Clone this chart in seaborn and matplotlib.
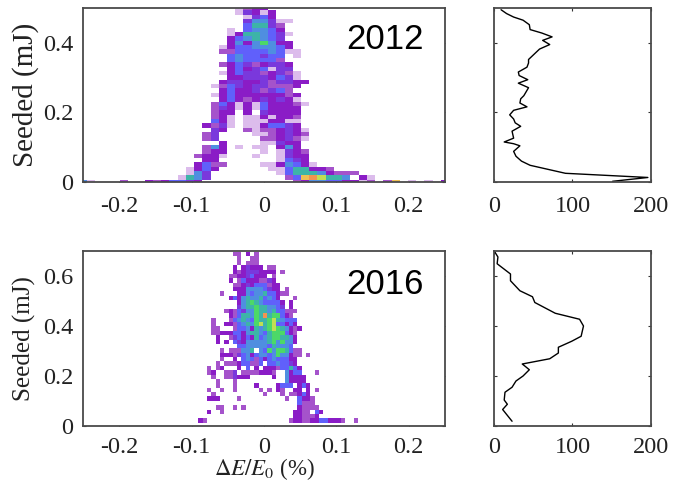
import numpy as np
import pandas as pd
import matplotlib
matplotlib.use("Agg")
import matplotlib.pyplot as plt
from matplotlib.colors import ListedColormap
import seaborn as sns

sns.set_theme(style="white")
plt.rcParams["font.family"] = ["Liberation Serif", "DejaVu Serif"]
plt.rcParams["mathtext.fontset"] = "stix"

# colour level of each heat cell: rows run from the top of the panel, each row
# holds (first column, levels), 0 / space = empty, a/b = the hottest levels
TOP_2012 = [
    [(19, "1233")], [(19, "14313")], [(20, "1453")], [(20, "466411")], [(20, "57742")],
    [(18, "1056653")], [(18, "13776541")], [(18, "3567654")], [(18, "36368633")],
    [(17, "135566653")], [(17, "2255556511")], [(18, "565545501")], [(18, "5655552")],
    [(17, "235423443")], [(18, "35345144")], [(17, "1354423421")], [(18, "334443541")],
    [(17, "34433424433")], [(16, "12543442223")], [(17, "353342452")], [(16, "13533333323")],
    [(17, "3532343431")], [(16, "253131533321")], [(16, "24313153333")], [(16, "23303043333")],
    [(16, "23101131332")], [(16, "53101113311")], [(15, "324101135543")], [(16, "430021223431")],
    [(15, "24"), (21, "1123432")], [(15, "24"), (22, "223421")], [(17, "3"), (22, "11433")],
    [(15, "263010110363")], [(15, "233"), (22, "1"), (24, "1432")], [(14, "2331"), (21, "1"), (24, "1433")],
    [(15, "33"), (24, "1543")], [(14, "3522"), (22, "1136531")], [(13, "1353"), (23, "11577332")],
    [(13, "164"), (24, "1577763222")], [(12, "1764"), (25, "25ba9776 31")],
    [(0, "61"), (5, "2"), (8, "3235543"), (26, "2366553312 2b"), (40, "1"), (42, "1"), (44, "3")],
]

# same layout, first column counted from the column at zero offset
BOTTOM_2016 = [
    [], [(-7, "22"), (-4, "3"), (-2, "2")], [(-6, "2"), (-3, "22")], [(-6, "2"), (-4, "222")],
    [(-7, "3"), (-5, "34333"), (1, "22")], [(-7, "323444333302")], [(-8, "22334533302")],
    [(-8, "30253332243")], [(-7, "22343555233")], [(-7, "3336666543302")],
    [(-10, "2"), (-6, "336566755322")], [(-8, "353676675653"), (7, "2")], [(-6, "3678765555303")],
    [(-6, "4677877665403")], [(-9, "23254668776755222")], [(-8, "32577687a788532")],
    [(-12, "2"), (-8, "2567658778976555")], [(-12, "2"), (-9, "33256768978955353")],
    [(-12, "22"), (-7, "2556376789876323")], [(-12, "22333553677657888532")],
    [(-11, "3002453537567887763")], [(-11, "3030543666667868663")], [(-6, "5566666576665")],
    [(-10, "2022266706586887522")], [(-10, "333245635665686632202")], [(-10, "200305652535655533")],
    [(-11, "2022235522505565543")], [(-13, "2023"), (-6, "305030333255753")],
    [(-13, "23"), (-9, "224"), (-5, "22223332"), (5, "6355"), (12, "2")],
    [(-12, "2"), (-9, "224333"), (2, "3"), (5, "63333")], [(-11, "2"), (-7, "2"), (5, "63333")],
    [(-11, "2"), (-7, "2"), (-2, "3"), (3, "3555"), (8, "353")],
    [(-13, "2"), (-10, "2"), (-7, "2"), (-1, "2"), (1, "2"), (3, "32"), (7, "33"), (10, "3"), (12, "2")],
    [(-12, "2"), (0, "2"), (4, "2"), (6, "22353")],
    [(-13, "333"), (-6, "2"), (5, "2"), (8, "5332")], [(8, "5222")],
    [(-11, "22"), (-7, "2"), (-5, "2"), (8, "32222")],
    [(-13, "3"), (-10, "2"), (7, "3322"), (12, "53")], [(7, "332223")],
    [(-15, "32"), (6, "2332233553332"), (21, "2")], [],
]

LEVEL_COLORS = ["#ffffff", "#dcbcec", "#a553cb", "#8a1cc6", "#7a38dc", "#6060fb", "#4f8ee0",
                "#3db4a8", "#4cd868", "#c0df52", "#f29350", "#eebf55"]

X_TICKS = [-0.2, -0.1, 0, 0.1, 0.2]
X_LABELS = ["-0.2", "-0.1", "0", "0.1", "0.2"]
Y_TICKS_2012 = [0, 0.2, 0.4]
Y_LABELS_2012 = ["0", "0.2", "0.4"]
Y_TICKS_2016 = [0, 0.2, 0.4, 0.6]
Y_LABELS_2016 = ["0", "0.2", "0.4", "0.6"]
COUNT_TICKS = [0, 100, 200]

COUNT_2012 = [151, 196, 91, 46, 35, 28, 25, 33, 25, 13, 25, 23, 34, 27, 25, 20, 25, 42, 33, 34, 38, 44,
              31, 43, 32, 31, 42, 44, 44, 58, 71, 62, 74, 61, 46, 45, 37, 25, 16, 9]
SEED_2012 = [0.002, 0.013, 0.025, 0.048, 0.060, 0.074, 0.088, 0.104, 0.110, 0.115, 0.126, 0.146, 0.160,
             0.170, 0.181, 0.193, 0.206, 0.216, 0.227, 0.239, 0.248, 0.271, 0.284, 0.294, 0.306, 0.316,
             0.330, 0.342, 0.352, 0.382, 0.395, 0.407, 0.417, 0.428, 0.438, 0.452, 0.465, 0.474, 0.484, 0.495]
COUNT_2016 = [23, 11, 17, 13, 14, 23, 28, 37, 45, 40, 36, 71, 82, 82, 99, 111, 114, 109, 78, 52, 49, 33,
              21, 21, 4, 5, 0.5]
SEED_2016 = [0.019, 0.066, 0.087, 0.104, 0.135, 0.155, 0.180, 0.200, 0.225, 0.238, 0.248, 0.269, 0.292,
             0.315, 0.339, 0.359, 0.400, 0.427, 0.451, 0.494, 0.517, 0.541, 0.581, 0.608, 0.649, 0.676, 0.699]

W, H = 673, 482
fig = plt.figure(figsize=(W / 100, H / 100), dpi=100)
fig.patch.set_facecolor("white")


def box(l, t, r, b):
    return fig.add_axes([l / W, 1 - b / H, (r - l) / W, (b - t) / H])


def grid(rows, n_cols, origin):
    out = np.zeros((len(rows), n_cols), dtype=int)
    for r, segments in enumerate(rows):
        for start, levels in segments:
            for j, ch in enumerate(levels):
                if ch != " ":
                    out[r, start + origin + j] = int(ch, 16)
    return pd.DataFrame(out)


def style(ax):
    for s in ax.spines.values():
        s.set_visible(True)
        s.set_color("#4a4a4a")
        s.set_linewidth(1.3)
    ax.tick_params(axis="both", which="both", direction="in", length=2.5, width=0.8, color="#333333",
                   top=True, right=True, bottom=True, left=True, labelsize=17.5,
                   labelcolor="#222222")
    ax.tick_params(axis="x", pad=10)
    ax.tick_params(axis="y", pad=7)


def heat(ax, frame, xf, yf, xlim, ylim, yt, yl, title, label_size, label_x, title_y):
    sns.heatmap(frame, ax=ax, cmap=ListedColormap(LEVEL_COLORS), vmin=-0.5, vmax=11.5, cbar=False,
                xticklabels=False, yticklabels=False)
    ax.set_xlim(*xlim)
    ax.set_ylim(*ylim)
    ax.set_xticks([xf(v) for v in X_TICKS], X_LABELS, rotation=0)
    ax.set_yticks([yf(v) for v in yt], yl, rotation=0)
    ax.set_ylabel("Seeded (mJ)", fontsize=label_size, color="#222222")
    ax.yaxis.set_label_coords(label_x, 0.5)
    ax.set_xlabel("")
    style(ax)
    ax.text(0.835, title_y, title, transform=ax.transAxes, ha="center", va="center",
            fontsize=25, family="Liberation Sans", color="black")


def profile(ax, counts, seeds, ymax, yt):
    sns.lineplot(x=counts, y=seeds, ax=ax, sort=False, estimator=None, color="black", linewidth=1.0)
    ax.set_xlim(0, 200)
    ax.set_ylim(0, ymax)
    ax.set_xticks(COUNT_TICKS, [str(c) for c in COUNT_TICKS])
    ax.set_yticks(yt, [""] * len(yt))
    style(ax)


# 2012 panel: cell centres sit on the axis limits, so the outer cells are cut in half
ax1 = box(83, 8, 445, 182)
x1 = lambda v: (v + 0.25) / (0.5 / 44) + 0.5
y1 = lambda v: (0.5 - v) / 0.0125 + 0.5
heat(ax1, grid(TOP_2012, 45, 0), x1, y1, (x1(-0.25), x1(0.25)), (y1(0), y1(0.5)),
     Y_TICKS_2012, Y_LABELS_2012, "2012", 21, -0.122, 0.82)

# 2016 panel
ax2 = box(83, 251, 445, 426)
x2 = lambda v: 42.23 + v / (0.5 / 84)
y2 = lambda v: (0.7 - v) / (0.7 / 40) + 0.75
heat(ax2, grid(BOTTOM_2016, 85, 42), x2, y2, (x2(-0.25), x2(0.25)), (y2(0), y2(0.7)),
     Y_TICKS_2016, Y_LABELS_2016, "2016", 18, -0.13, 0.81)
ax2.tick_params(axis="x", pad=8)
ax2.set_xlabel(r"$\Delta E/E_0$ (%)", fontsize=16.5, color="#222222")
ax2.xaxis.set_label_coords(0.5, -0.172)

profile(box(494, 8, 651, 182), COUNT_2012, SEED_2012, 0.5, Y_TICKS_2012)
ax4 = box(494, 251, 651, 426)
profile(ax4, COUNT_2016, SEED_2016, 0.7, Y_TICKS_2016)
ax4.tick_params(axis="x", pad=8)

fig.savefig("out.png", dpi=100)
